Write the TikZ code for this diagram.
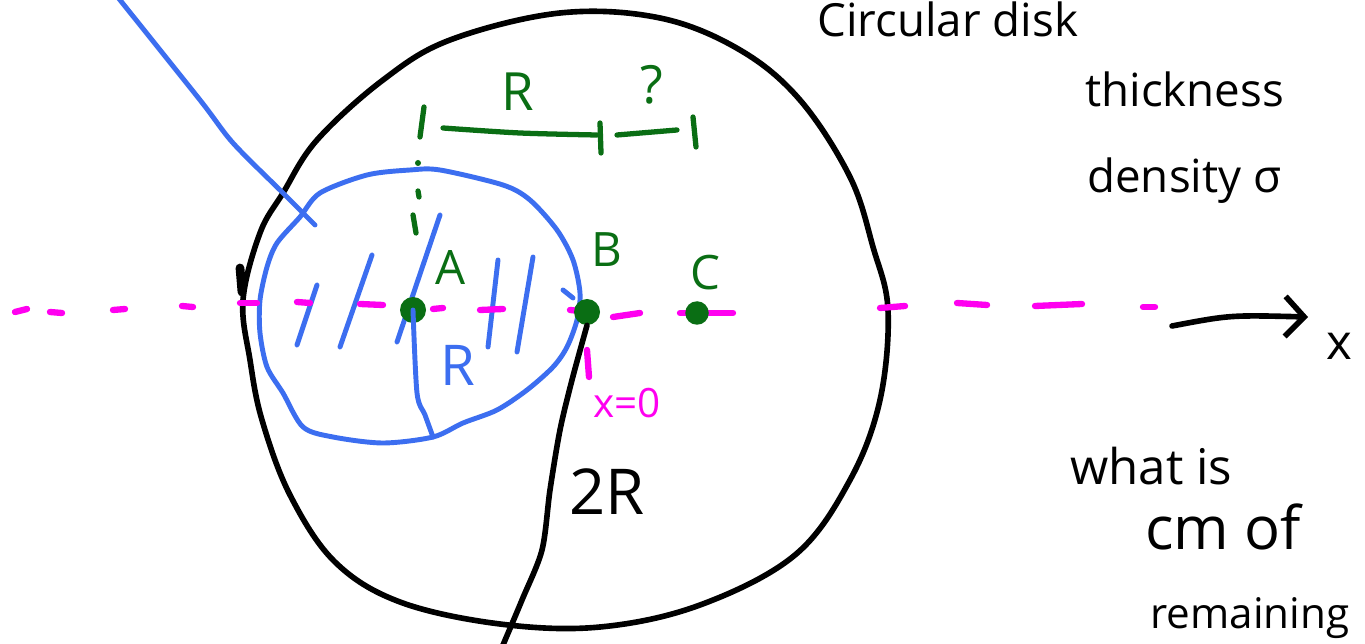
\documentclass[tikz,border=0pt]{standalone}
\usepackage{fontspec}
\setmainfont{Open Sans}
\usetikzlibrary{arrows.meta}
\definecolor{hblue}{RGB}{60,110,240}
\definecolor{hgreen}{RGB}{10,110,20}
\definecolor{hmag}{RGB}{255,0,240}
\begin{document}
\begin{tikzpicture}[x=0.02cm,y=-0.02cm,
  ink/.style={line cap=round,line join=round},
  blk/.style={ink,draw=black,line width=3.2pt},
  blu/.style={ink,draw=hblue,line width=2.8pt},
  grn/.style={ink,draw=hgreen,line width=3pt},
  mag/.style={ink,draw=hmag,line width=3.6pt},
  gdot/.style={circle,fill=hgreen,inner sep=0pt,minimum size=0.52cm},
  txt/.style={anchor=base west,inner sep=0pt,text=black},
  glbl/.style={inner sep=0pt,text=hgreen,font=\fontsize{27}{30}\selectfont}]
\useasboundingbox (0,0) rectangle (1365,644);
\clip (0,0) rectangle (1365,644);
\fill[white] (0,0) rectangle (1365,644);
% big disk
\draw[blk] plot[smooth cycle,tension=0.6] coordinates {
 (243,300) (260,233) (283,193) (317,140) (383,80) (450,40) (560,13) (660,18)
 (740,50) (800,100) (850,177) (873,247) (888,310) (880,400) (850,480)
 (795,555) (700,605) (600,627) (500,624) (400,602) (335,562) (290,495)
 (262,420) (250,360)};
\draw[blk,line width=5pt] (240,268) -- (242,292);
% blue small disk
\draw[blu] plot[smooth cycle,tension=0.5] coordinates {
 (440,170) (503,185) (530,200) (557,230) (573,260) (580,293) (577,320)
 (567,347) (553,367) (527,390) (497,410) (463,423) (433,437) (383,443)
 (333,437) (303,427) (283,393) (267,367) (260,333) (260,300) (267,267)
 (277,243) (300,217) (320,193) (367,175) (410,170)};
\draw[blu] (563,290) -- (573,298);
% hatching
\draw[blu] (317,285) -- (297,345);
\draw[blu] (372,255) -- (340,347);
\draw[blu] (440,215) -- (397,342);
\draw[blu] (498,260) -- (488,347);
\draw[blu] (533,257) -- (517,352);
% leader line
\coordinate (leadtop) at (116,-5);
\coordinate (leadend) at (315,225);
\draw[blu] plot[smooth,tension=0.5] coordinates {(leadtop) (200,100) (233,143) (283,193) (leadend)};
% magenta axis dashes
\foreach \a/\b/\c/\d in {15/312/27/309,50/312/62/313,113/310/125/309,182/306/193/307,
 240/303/257/303,297/302/310/303,360/304/383/305,433/309/443/308,480/310/503/309,
 570/310/580/311,613/317/640/313,680/313/700/313,707/313/733/313,880/308/905/306,
 957/303/987/305,1035/306/1082/304,1143/307/1155/307}
 \draw[mag] (\a,\b) -- (\c,\d);
\draw[mag] (587,350) -- (589,377);
\node[inner sep=0pt,text=hmag,font=\fontsize{23}{26}\selectfont] (x0) at (627,403) {x=0};
% green points
\node[gdot] (A) at (413,310) {};
\node[gdot] (B) at (587,312) {};
\node[gdot,minimum size=0.47cm] (C) at (697,313) {};
\node[glbl] (lA) at (451,268) {A};
\node[glbl] (lB) at (607,250) {B};
\node[glbl] (lC) at (705,273) {C};
% blue radius
\coordinate (rbot) at (433,437);
\draw[blu] plot[smooth,tension=0.5] coordinates {(A.center) (417,393) (425,415) (rbot)};
\node[inner sep=0pt,text=hblue,font=\fontsize{32}{36}\selectfont] (bR) at (458,365) {R};
% black radius 2R
\coordinate (bend) at (500,652);
\draw[blk] plot[smooth,tension=0.5] coordinates {(B.south) (572,380) (560,430) (550,490) (542,550) (522,600) (bend)};
\node[inner sep=0pt,font=\fontsize{36}{40}\selectfont] (twoR) at (607,492) {2R};
% green dimension
\draw[grn] (424,107) -- (420,137);
\fill[hgreen] (418,163) circle (3);
\draw[grn] (418,191) -- (419,197);
\draw[grn] (413,215) -- (416,233);
\draw[grn] plot[smooth] coordinates {(443,128) (520,133) (597,135)};
\draw[grn] (600,123) -- (601,153);
\draw[grn] (617,135) -- (677,130);
\draw[grn] (693,117) -- (696,147);
\node[inner sep=0pt,text=hgreen,font=\fontsize{30}{32}\selectfont] (gR) at (518,92) {R};
\node[inner sep=0pt,text=hgreen,font=\fontsize{30}{32}\selectfont] (gQ) at (652,85) {?};
% x axis arrow
\coordinate (arS) at (1172,326);
\coordinate (arE) at (1308,317);
\draw[blk,-{Straight Barb[length=0.38cm,width=0.8cm]}] (arS) .. controls (1230,315) .. (arE);
\node[txt,font=\fontsize{28}{30}\selectfont] (xl) at (1326,360) {x};
% right-hand notes
\node[txt,font=\fontsize{26}{30}\selectfont] (t1) at (817,37) {Circular disk};
\node[txt,font=\fontsize{26}{30}\selectfont] (t2) at (1085,107) {thickness};
\node[txt,font=\fontsize{26}{30}\selectfont] (t3) at (1087,193) {density σ};
\node[txt,font=\fontsize{28}{30}\selectfont] (t4) at (1070,485) {what is};
\node[txt,font=\fontsize{34}{36}\selectfont] (t5) at (1145,550) {cm of};
\node[txt,font=\fontsize{24}{28}\selectfont] (t6) at (1150,628) {remaining};
\end{tikzpicture}
\end{document}
